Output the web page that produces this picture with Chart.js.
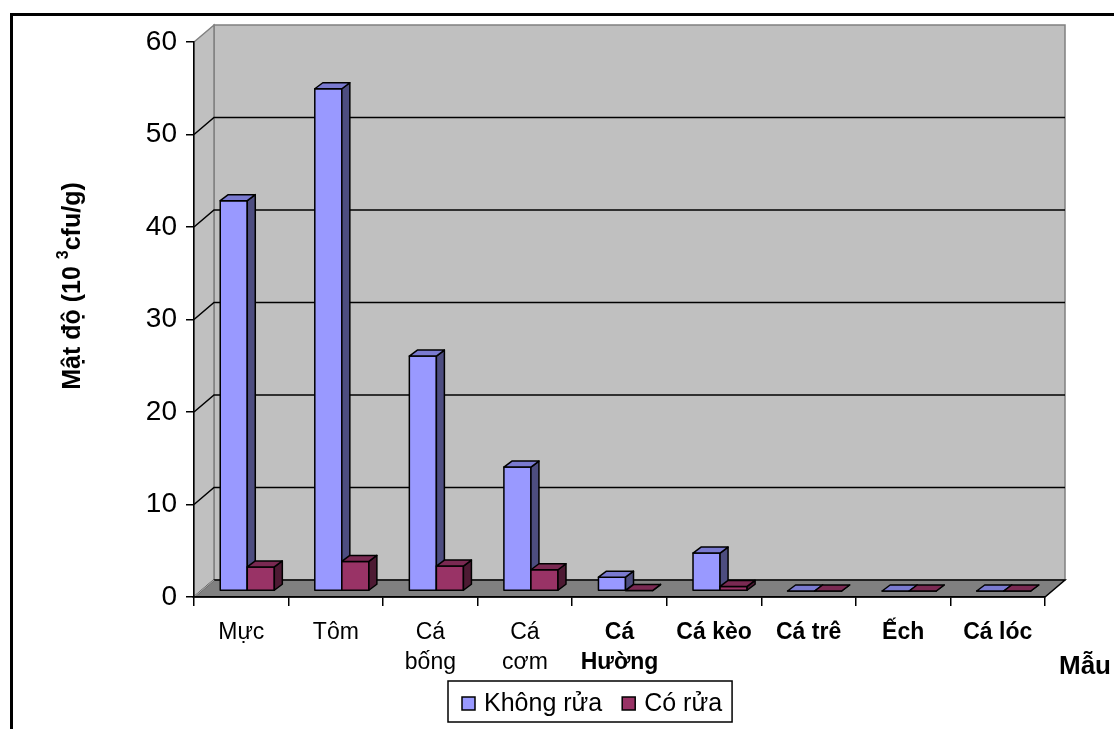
<!DOCTYPE html>
<html>
<head>
<meta charset="utf-8">
<script src="https://cdn.jsdelivr.net/npm/chart.js@4.4.0/dist/chart.umd.min.js"></script>
<style>
  html, body { margin: 0; padding: 0; background: #fff; }
  #khung { width: 1114px; height: 729px; position: relative; }
</style>
</head>
<body>
<div id="khung"><canvas id="grafico"></canvas></div>
<script>
// du lieu doc tu hinh
const mau = ['Mực', 'Tôm', ['Cá', 'bống'], ['Cá', 'cơm'], ['Cá', 'Hường'], 'Cá kèo', 'Cá trê', 'Ếch', 'Cá lóc'];
const khongRua = [42.2, 54.3, 25.4, 13.4, 1.5, 4.1, 0, 0, 0];
const coRua = [2.6, 3.2, 2.7, 2.3, 0.05, 0.5, 0, 0, 0];
const mocTruc = [0, 10, 20, 30, 40, 50, 60];
const nhanDam = 4; // tu nhan nay tro di in dam

const phong = "'Liberation Sans', Arial, sans-serif";
Chart.defaults.font.family = phong;
Chart.defaults.color = '#000';

const sau = { dx: 20, dy: -17 };   // chieu sau cua tuong
const dich = { dx: 6, dy: -6 };    // cot nam giua tuong va mat truoc
const hopSau = { dx: 8, dy: -6 };  // chieu sau cua moi cot

const mauMat = [
  { truoc: '#9999FF', ben: '#4D4D80', tren: '#7A7AD0' },
  { truoc: '#993366', ben: '#4D1A33', tren: '#7A2952' }
];

function daGiac(ctx, diem, nen) {
  ctx.beginPath();
  ctx.moveTo(diem[0][0], diem[0][1]);
  for (let i = 1; i < diem.length; i++) ctx.lineTo(diem[i][0], diem[i][1]);
  ctx.closePath();
  ctx.fillStyle = nen;
  ctx.fill();
  ctx.stroke();
}

function veHop(ctx, x, w, top, base, m) {
  const { dx, dy } = hopSau;
  ctx.lineWidth = 1.5;
  ctx.strokeStyle = '#000';
  ctx.lineJoin = 'round';
  daGiac(ctx, [[x, top], [x + w, top], [x + w, base], [x, base]], m.truoc);
  daGiac(ctx, [[x + w, top], [x + w + dx, top + dy], [x + w + dx, base + dy], [x + w, base]], m.ben);
  daGiac(ctx, [[x, top], [x + dx, top + dy], [x + w + dx, top + dy], [x + w, top]], m.tren);
}

const khung3d = {
  id: 'khung3d',
  beforeDraw(chart) {
    const { ctx, chartArea: a, scales } = chart;
    const y = scales.y;
    const y0 = y.getPixelForValue(mocTruc[0]);
    const yMax = y.getPixelForValue(mocTruc[mocTruc.length - 1]);
    ctx.save();
    ctx.lineWidth = 1.5;
    ctx.strokeStyle = '#808080';
    // tuong sau
    daGiac(ctx, [[a.left + sau.dx, yMax + sau.dy], [a.right + sau.dx, yMax + sau.dy],
      [a.right + sau.dx, y0 + sau.dy], [a.left + sau.dx, y0 + sau.dy]], '#C0C0C0');
    // tuong trai
    daGiac(ctx, [[a.left, yMax], [a.left + sau.dx, yMax + sau.dy],
      [a.left + sau.dx, y0 + sau.dy], [a.left, y0]], '#C0C0C0');
    // san
    ctx.strokeStyle = '#000';
    daGiac(ctx, [[a.left, y0], [a.left + sau.dx, y0 + sau.dy],
      [a.right + sau.dx, y0 + sau.dy], [a.right, y0]], '#808080');
    ctx.strokeStyle = '#A0A0A0';
    ctx.beginPath();
    ctx.moveTo(a.left, y0); ctx.lineTo(a.left + sau.dx, y0 + sau.dy);
    ctx.stroke();
    // luoi
    ctx.strokeStyle = '#000';
    ctx.lineWidth = 1.5;
    mocTruc.slice(1, -1).forEach(v => {
      const py = y.getPixelForValue(v);
      ctx.beginPath();
      ctx.moveTo(a.left, py);
      ctx.lineTo(a.left + sau.dx, py + sau.dy);
      ctx.lineTo(a.right + sau.dx, py + sau.dy);
      ctx.stroke();
    });
    ctx.restore();
  },
  beforeDatasetsDraw(chart) {
    const ctx = chart.ctx;
    const metas = [chart.getDatasetMeta(0), chart.getDatasetMeta(1)];
    ctx.save();
    for (let i = 0; i < mau.length; i++) {
      metas.forEach((meta, k) => {
        const el = meta.data[i];
        const x = el.x - el.width / 2 + dich.dx;
        veHop(ctx, x, el.width, el.y + dich.dy, el.base + dich.dy, mauMat[k]);
      });
    }
    ctx.restore();
    return false;
  },
  afterDraw(chart) {
    const ctx = chart.ctx;
    ctx.save();
    // tieu de truc tung
    ctx.translate(73, 286);
    ctx.rotate(-Math.PI / 2);
    ctx.fillStyle = '#000';
    ctx.textBaseline = 'middle';
    ctx.textAlign = 'left';
    const phan = [
      { t: 'Mật độ (10 ', f: 'bold 25px ' + phong, dy: 0 },
      { t: '3', f: 'bold 16px ' + phong, dy: -9 },
      { t: 'cfu/g)', f: 'bold 25px ' + phong, dy: 0 }
    ];
    let tong = 0;
    phan.forEach(p => { ctx.font = p.f; p.w = ctx.measureText(p.t).width; tong += p.w; });
    let cx = -tong / 2;
    phan.forEach(p => { ctx.font = p.f; ctx.fillText(p.t, cx, p.dy); cx += p.w; });
    ctx.restore();

    // tieu de truc hoanh
    ctx.save();
    ctx.font = 'bold 26px ' + phong;
    ctx.fillStyle = '#000';
    ctx.textBaseline = 'alphabetic';
    ctx.fillText('Mẫu', 1059, 674);
    ctx.restore();

    // chu giai
    ctx.save();
    ctx.font = '25px ' + phong;
    const ds = chart.data.datasets;
    const o = 13, khe = 9, cach = 20;
    let rong = 14;
    ds.forEach((d, k) => { rong += o + khe + ctx.measureText(d.label).width + (k < ds.length - 1 ? cach : 0); });
    rong += 10;
    const bx = 448, by = 681, bh = 41;
    ctx.fillStyle = '#fff';
    ctx.fillRect(bx, by, rong, bh);
    ctx.lineWidth = 1.5;
    ctx.strokeStyle = '#000';
    ctx.strokeRect(bx, by, rong, bh);
    let lx = bx + 14;
    ds.forEach(d => {
      ctx.fillStyle = d.backgroundColor;
      ctx.fillRect(lx, 697, o, o);
      ctx.strokeRect(lx, 697, o, o);
      ctx.fillStyle = '#000';
      ctx.textBaseline = 'alphabetic';
      ctx.fillText(d.label, lx + o + khe, 711);
      lx += o + khe + ctx.measureText(d.label).width + cach;
    });
    ctx.restore();

    // vien ngoai
    ctx.save();
    ctx.lineWidth = 3;
    ctx.strokeStyle = '#000';
    ctx.beginPath();
    ctx.moveTo(11.5, 729);
    ctx.lineTo(11.5, 14.5);
    ctx.lineTo(1114, 14.5);
    ctx.stroke();
    ctx.restore();
  }
};

new Chart(document.getElementById('grafico'), {
  type: 'bar',
  data: {
    labels: mau,
    datasets: [{
      label: 'Không rửa',
      backgroundColor: '#9999FF',
      borderColor: '#000',
      data: khongRua
    }, {
      label: 'Có rửa',
      backgroundColor: '#993366',
      borderColor: '#000',
      data: coRua
    }]
  },
  options: {
    responsive: true,
    maintainAspectRatio: false,
    animation: false,
    devicePixelRatio: 1,
    layout: { padding: { top: 42, right: 69, left: 0, bottom: 0 } },
    datasets: { bar: { barPercentage: 1, categoryPercentage: 0.572 } },
    plugins: { legend: { display: false }, tooltip: { enabled: false } },
    scales: {
      x: {
        grid: { drawOnChartArea: false, tickLength: 9, color: '#000', lineWidth: 1.5 },
        border: { display: true, color: '#000', width: 1.5 },
        ticks: {
          padding: 12,
          maxRotation: 0,
          autoSkip: false,
          color: '#000',
          font: c => ({ size: 23, lineHeight: '30px', weight: c.index >= nhanDam ? 'bold' : 'normal' })
        },
        afterFit: s => { s.height = 132; }
      },
      y: {
        min: mocTruc[0],
        max: mocTruc[mocTruc.length - 1],
        grid: { drawOnChartArea: false, tickLength: 8, color: '#000', lineWidth: 1.5 },
        border: { display: true, color: '#000', width: 1.5 },
        ticks: { stepSize: 10, padding: 9, color: '#000', font: { size: 28 } },
        afterFit: s => { s.width = 194; }
      }
    }
  },
  plugins: [khung3d]
});
</script>
</body>
</html>
